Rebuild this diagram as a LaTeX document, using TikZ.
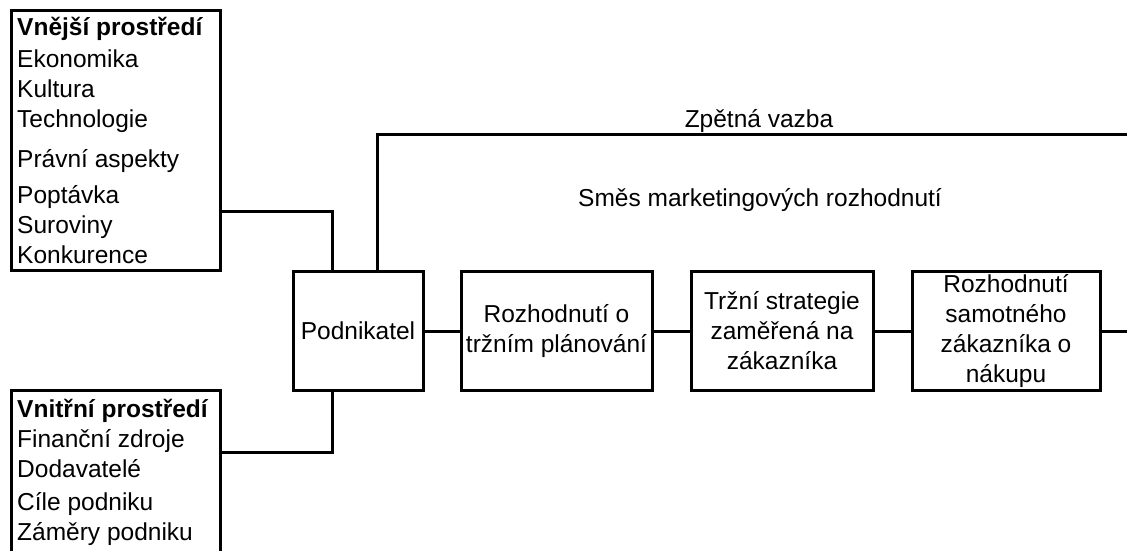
\documentclass[tikz,border=0pt]{standalone}
\usepackage{fontspec}
\setmainfont{Liberation Sans}
\newcommand{\dfont}{\fontsize{24.5}{30}\selectfont}
\begin{document}
\begin{tikzpicture}[x=1pt,y=-1pt,
  box/.style={draw, line width=3pt, inner sep=0pt, minimum height=119pt, align=center, font=\dfont},
  listbox/.style={draw, line width=3pt, inner sep=0pt},
  item/.style={anchor=base west, inner sep=0pt, font=\dfont},
  head/.style={anchor=base west, inner sep=0pt, font=\dfont\bfseries},
  lbl/.style={anchor=base, inner sep=0pt, font=\dfont},
  wire/.style={line width=3pt}]
\useasboundingbox (0,0) rectangle (1127,551);
\clip (0,0) rectangle (1127,551);
\fill[white] (0,0) rectangle (1127,551);
% outer environment box
\node[listbox, minimum width=209pt, minimum height=259pt] (ext) at (115.5,140.5) {};
\node[head] (e0) at (17,36) {Vnější prostředí};
\node[item] (e1) at (17,67) {Ekonomika};
\node[item] (e2) at (17,97) {Kultura};
\node[item] (e3) at (17,127) {Technologie};
\node[item] (e4) at (17,167) {Právní aspekty};
\node[item] (e5) at (17,203) {Poptávka};
\node[item] (e6) at (17,233) {Suroviny};
\node[item] (e7) at (17,263) {Konkurence};
% inner environment box
\node[listbox, minimum width=209pt, minimum height=250pt] (int) at (115.5,515) {};
\node[head] (i0) at (17,417) {Vnitřní prostředí};
\node[item] (i1) at (17,447) {Finanční zdroje};
\node[item] (i2) at (17,477) {Dodavatelé};
\node[item] (i3) at (17,510) {Cíle podniku};
\node[item] (i4) at (17,540) {Záměry podniku};
% chain
\node[box, minimum width=130pt] (pod) at (358,331) {Podnikatel};
\node[box, minimum width=191pt] (plan) at (556.5,331) {Rozhodnutí o\\tržním plánování};
\node[box, minimum width=182pt] (str) at (782,331) {Tržní strategie\\zaměřená na\\zákazníka};
\node[box, minimum width=188pt] (buy) at (1006,331) {Rozhodnutí\\samotného\\zákazníka o\\nákupu};
% labels
\node[lbl] (fbl) at (759,127) {Zpětná vazba};
\node[lbl] (mix) at (760,206) {Směs marketingových rozhodnutí};
% junctions
\coordinate (k1) at (332,211);
\coordinate (k2) at (332,452);
\coordinate (fb) at (377,134);
\coordinate (fbend) at (1127,134);
\coordinate (out) at (1127,331);
% connectors
\draw[wire] (ext.east |- k1) -| (pod.north -| k1);
\draw[wire] (int.east |- k2) -| (pod.south -| k2);
\draw[wire] (pod.north -| fb) |- (fbend);
\draw[wire] (pod) -- (plan);
\draw[wire] (plan) -- (str);
\draw[wire] (str) -- (buy);
\draw[wire] (buy) -- (out);
\end{tikzpicture}
\end{document}
